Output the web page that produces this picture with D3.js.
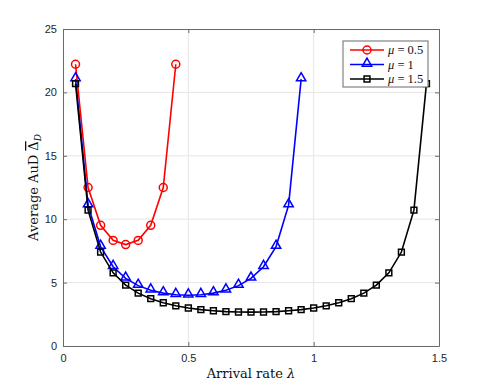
<!DOCTYPE html>
<html>
<head>
<meta charset="utf-8">
<script src="https://cdn.jsdelivr.net/npm/d3@7"></script>
<style>
  body { margin: 0; background: #fff; }
  svg { display: block; }
  .tick text { font-family: "Liberation Sans", Arial, sans-serif; font-size: 11px; fill: #262626; }
</style>
</head>
<body>
<div id="chart"></div>
<script>
"use strict";

// values
var lambdaRed = [0.05, 0.10, 0.15, 0.20, 0.25, 0.30, 0.35, 0.40, 0.45];
var aodRed = [22.22, 12.5, 9.52, 8.33, 8.0, 8.33, 9.52, 12.5, 22.22];

var lambdaBlue = [0.05, 0.10, 0.15, 0.20, 0.25, 0.30, 0.35, 0.40, 0.45, 0.50,
                  0.55, 0.60, 0.65, 0.70, 0.75, 0.80, 0.85, 0.90, 0.95];
var aodBlue = [21.05, 11.11, 7.84, 6.25, 5.33, 4.76, 4.40, 4.17, 4.04, 4.0,
               4.04, 4.17, 4.40, 4.76, 5.33, 6.25, 7.84, 11.11, 21.05];

var lambdaBlack = [0.05, 0.10, 0.15, 0.20, 0.25, 0.30, 0.35, 0.40, 0.45, 0.50,
                   0.55, 0.60, 0.65, 0.70, 0.75, 0.80, 0.85, 0.90, 0.95, 1.00,
                   1.05, 1.10, 1.15, 1.20, 1.25, 1.30, 1.35, 1.40, 1.45];
var aodBlack = [20.69, 10.71, 7.41, 5.77, 4.8, 4.17, 3.73, 3.41, 3.17, 3.0,
                2.87, 2.78, 2.71, 2.68, 2.67, 2.68, 2.71, 2.78, 2.87, 3.0,
                3.17, 3.41, 3.73, 4.17, 4.8, 5.77, 7.41, 10.71, 20.69];

var xTicks = [0, 0.5, 1, 1.5];
var xTickLabels = ["0", "0.5", "1", "1.5"];
var yTicks = [0, 5, 10, 15, 20, 25];

var seriesNames = ["0.5", "1", "1.5"];

var width = 485;
var height = 389;
var margin = {top: 29, right: 46, bottom: 43, left: 63};
var plotW = width - margin.left - margin.right;
var plotH = height - margin.top - margin.bottom;

var serif = '"DejaVu Serif", "Liberation Serif", serif';

var x = d3.scaleLinear().domain([0, 1.5]).range([0, plotW]);
var y = d3.scaleLinear().domain([0, 25]).range([plotH, 0]);

var svg = d3.select('#chart')
            .append('svg')
            .attr('width', width)
            .attr('height', height);

var g = svg.append('g')
           .attr('transform', 'translate(' + margin.left + ',' + margin.top + ')');

// grid
g.append('g').selectAll('line')
  .data(xTicks.slice(1, -1))
  .enter().append('line')
  .attr('x1', function(d){ return x(d) }).attr('x2', function(d){ return x(d) })
  .attr('y1', 0).attr('y2', plotH)
  .attr('stroke', '#e6e6e6').attr('stroke-width', 1);

g.append('g').selectAll('line')
  .data(yTicks.slice(1, -1))
  .enter().append('line')
  .attr('x1', 0).attr('x2', plotW)
  .attr('y1', function(d){ return y(d) }).attr('y2', function(d){ return y(d) })
  .attr('stroke', '#e6e6e6').attr('stroke-width', 1);

// axes, ticks pointing inward
var xAxis = d3.axisBottom(x).tickValues(xTicks)
              .tickFormat(function(d, i){ return xTickLabels[i] })
              .tickSizeInner(-4).tickSizeOuter(0).tickPadding(8);
var yAxis = d3.axisLeft(y).tickValues(yTicks).tickSizeInner(-4).tickSizeOuter(0).tickPadding(6);

g.append('g').attr('transform', 'translate(0,' + plotH + ')').call(xAxis);
g.append('g').call(yAxis);
g.append('g').call(d3.axisTop(x).tickValues(xTicks).tickSizeInner(-4).tickSizeOuter(0).tickFormat(''));
g.append('g').attr('transform', 'translate(' + plotW + ',0)')
  .call(d3.axisRight(y).tickValues(yTicks).tickSizeInner(-4).tickSizeOuter(0).tickFormat(''));

g.selectAll('.domain, .tick line').attr('stroke', '#6a6a6a').attr('stroke-width', 1);

// axis labels
svg.append('text')
   .attr('x', margin.left + plotW / 2)
   .attr('y', 378)
   .attr('text-anchor', 'middle')
   .style('font-family', serif)
   .style('font-size', '13px')
   .style('fill', '#111')
   .html('Arrival rate <tspan font-style="italic">λ</tspan>');

var yl = svg.append('text')
   .attr('transform', 'translate(38,' + (margin.top + plotH / 2) + ') rotate(-90)')
   .attr('text-anchor', 'middle')
   .style('font-family', serif)
   .style('font-size', '13px')
   .style('fill', '#111');
yl.append('tspan').text('Average AuD ');
yl.append('tspan').style('text-decoration', 'overline').text('Δ');
yl.append('tspan').attr('font-style', 'italic').attr('font-size', '9px').attr('dy', 3).text('D');

// series
var series = [
  {name: seriesNames[0], xs: lambdaRed, ys: aodRed, color: '#ff0000', marker: 'circle'},
  {name: seriesNames[1], xs: lambdaBlue, ys: aodBlue, color: '#0000ff', marker: 'triangle'},
  {name: seriesNames[2], xs: lambdaBlack, ys: aodBlack, color: '#000000', marker: 'square'}
];

var line = d3.line()
  .x(function(d){ return x(d[0]) })
  .y(function(d){ return y(d[1]) });

var symbolFor = function(m){
  switch (m){
    case 'circle': return d3.symbol().type(d3.symbolCircle).size(50)();
    case 'triangle': return d3.symbol().type(d3.symbolTriangle).size(38)();
    case 'square': return d3.symbol().type(d3.symbolSquare).size(34)();
  }
};

series.forEach(function(s){
  var pts = s.xs.map(function(v, i){ return [v, s.ys[i]] });
  g.append('path')
   .datum(pts)
   .attr('d', line)
   .attr('fill', 'none')
   .attr('stroke', s.color)
   .attr('stroke-width', 1.6);
  g.selectAll(null)
   .data(pts)
   .enter().append('path')
   .attr('d', symbolFor(s.marker))
   .attr('transform', function(d){
     var dy = s.marker === 'triangle' ? -1 : 0;
     return 'translate(' + x(d[0]) + ',' + (y(d[1]) + dy) + ')';
   })
   .attr('fill', 'none')
   .attr('stroke', s.color)
   .attr('stroke-width', 1.5);
});

// legend
var leg = svg.append('g').attr('transform', 'translate(343,41)');
leg.append('rect')
   .attr('width', 85).attr('height', 46)
   .attr('fill', '#fff').attr('stroke', '#6a6a6a').attr('stroke-width', 1);

series.forEach(function(s, i){
  var ly = 9 + i * 14.5;
  leg.append('line')
     .attr('x1', 7).attr('x2', 41).attr('y1', ly).attr('y2', ly)
     .attr('stroke', s.color).attr('stroke-width', 1.6);
  leg.append('path')
     .attr('d', symbolFor(s.marker))
     .attr('transform', 'translate(24,' + (ly + (s.marker === 'triangle' ? -1 : 0)) + ')')
     .attr('fill', 'none').attr('stroke', s.color).attr('stroke-width', 1.5);
  var t = leg.append('text')
     .attr('x', 45).attr('y', ly + 4)
     .style('font-family', '"Liberation Serif", serif')
     .style('font-size', '12.5px')
     .style('fill', '#111');
  t.append('tspan').attr('font-style', 'italic').text('μ');
  t.append('tspan').text(' = ' + s.name);
});
</script>
</body>
</html>
